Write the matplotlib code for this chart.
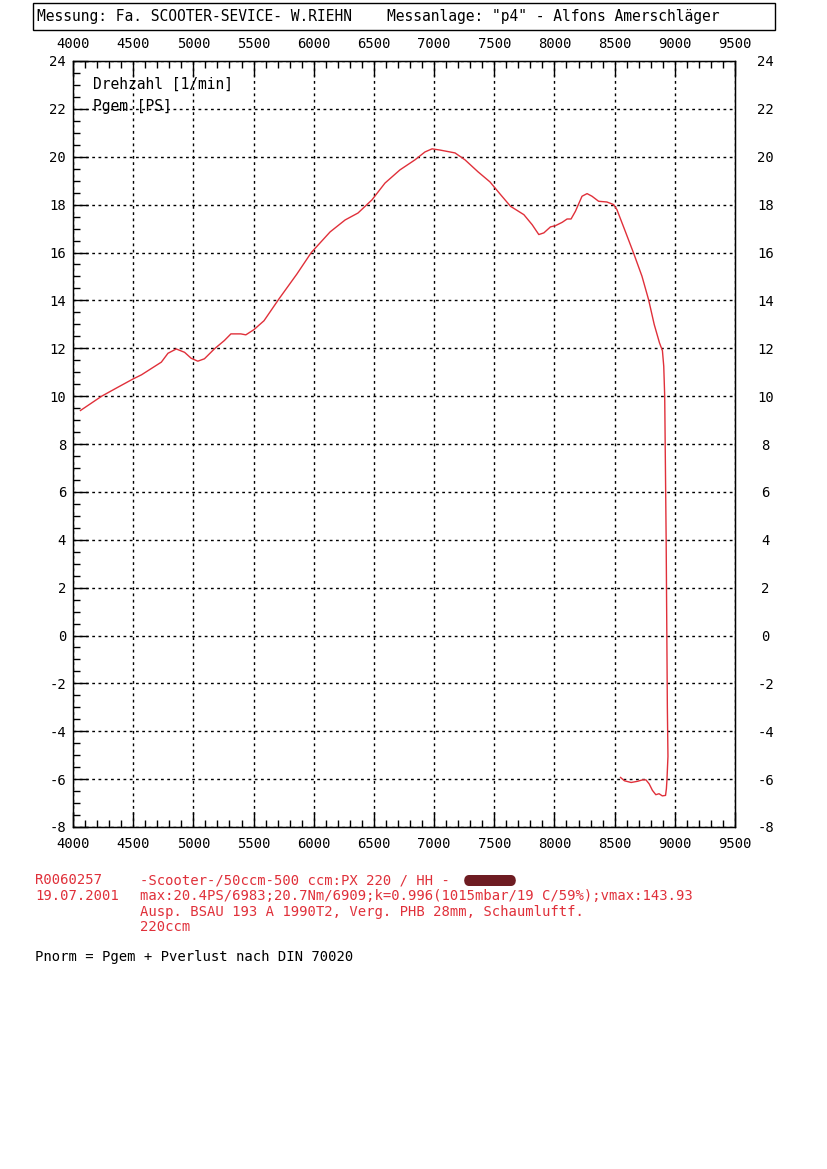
import numpy as np
import matplotlib
matplotlib.use('Agg')
import matplotlib.pyplot as plt
from matplotlib.patches import Rectangle, FancyBboxPatch
from matplotlib.ticker import MultipleLocator

# power curve (rpm, PS)
rpm = [4062, 4239, 4376, 4500, 4569, 4734, 4789, 4858, 4927, 4982, 5037, 5092,
       5174, 5257, 5312, 5394, 5436, 5504, 5587, 5711, 5860, 5980, 6136, 6261,
       6368, 6484, 6592, 6716, 6841, 6924, 6983, 7049, 7174, 7257, 7365, 7464,
       7552, 7635, 7746, 7815, 7870, 7912, 7967, 8008, 8064, 8105, 8138, 8174,
       8229, 8271, 8312, 8367, 8436, 8492, 8519, 8588, 8657, 8727, 8782, 8829,
       8873, 8897, 8908, 8916, 8928, 8938, 8943, 8935, 8930, 8923, 8896, 8869,
       8842, 8814, 8787, 8760, 8732, 8691, 8637, 8582, 8549]
pgem = [9.40, 10.0, 10.38, 10.72, 10.89, 11.42, 11.79, 11.97, 11.83, 11.58, 11.46, 11.56,
        11.97, 12.32, 12.60, 12.60, 12.56, 12.78, 13.15, 14.06, 15.10, 16.0, 16.86, 17.36,
        17.65, 18.2, 18.9, 19.45, 19.87, 20.2, 20.33, 20.28, 20.16, 19.87, 19.37, 18.95,
        18.42, 17.93, 17.58, 17.16, 16.75, 16.82, 17.07, 17.12, 17.26, 17.40, 17.40, 17.72,
        18.35, 18.46, 18.35, 18.14, 18.11, 18.0, 17.79, 16.89, 15.98, 15.01, 14.03, 12.99,
        12.22, 11.90, 11.25, 9.99, 4.0, -3.0, -5.05, -6.0, -6.4, -6.68, -6.70, -6.61,
        -6.65, -6.47, -6.20, -6.03, -6.03, -6.09, -6.14, -6.07, -5.93]

x_ticks = np.arange(4000, 9501, 500)
y_ticks = np.arange(-8, 25, 2)

header = 'Messung: Fa. SCOOTER-SEVICE- W.RIEHN    Messanlage: "p4" - Alfons Amerschläger'
info_left = ['R0060257', '19.07.2001']
info_right = ['-Scooter-/50ccm-500 ccm:PX 220 / HH - ',
              'max:20.4PS/6983;20.7Nm/6909;k=0.996(1015mbar/19 C/59%);vmax:143.93',
              'Ausp. BSAU 193 A 1990T2, Verg. PHB 28mm, Schaumluftf.',
              '220ccm']
footer = 'Pnorm = Pgem + Pverlust nach DIN 70020'

red = '#e0303a'
mono = 'DejaVu Sans Mono'
plt.rcParams['font.family'] = mono
plt.rcParams['axes.unicode_minus'] = False

W, H = 827, 1169
fig = plt.figure(figsize=(8.27, 11.69), dpi=100)
fig.patch.set_facecolor('white')

# header box
fig.patches.append(Rectangle((33 / W, 1 - 30 / H), 742 / W, 27 / H, transform=fig.transFigure,
                             fill=False, edgecolor='black', linewidth=1))
fig.text(37 / W, 1 - 17 / H, header, fontsize=10.5, va='center', ha='left', color='black')

ax = fig.add_axes([73 / W, 1 - 827 / H, 662 / W, 766 / H])
ax.plot(rpm, pgem, color=red, linewidth=1)
ax.set_xlim(4000, 9500)
ax.set_ylim(-8, 24)
ax.set_xticks(x_ticks)
ax.set_yticks(y_ticks)
ax.xaxis.set_minor_locator(MultipleLocator(100))
ax.yaxis.set_minor_locator(MultipleLocator(0.5))
ax.grid(True, which='major', color='black', linestyle=(0, (2, 2.5)), linewidth=1)
ax.tick_params(which='both', direction='in', top=True, bottom=True, left=True, right=True,
               labeltop=True, labelbottom=True, labelright=False, labelsize=10, width=1)
ax.tick_params(which='major', length=11)
ax.tick_params(which='minor', length=5)
ax.tick_params(axis='x', pad=7)
ax.tick_params(axis='y', pad=5)
for s in ax.spines.values():
    s.set_linewidth(1)

# right hand labels sit further out, centred
ax2 = ax.twinx()
ax2.set_ylim(-8, 24)
ax2.set_yticks(y_ticks)
ax2.tick_params(axis='y', length=0, pad=22, labelsize=10)
for lab in ax2.get_yticklabels():
    lab.set_horizontalalignment('center')

ax.text(0.03, 0.970, 'Drehzahl [1/min]', transform=ax.transAxes, fontsize=10.5, va='center')
ax.text(0.03, 0.940, 'Pgem [PS]', transform=ax.transAxes, fontsize=10.5, va='center')

# info lines
ys = [880, 896, 912, 927]
for t, y in zip(info_left, ys):
    fig.text(35 / W, 1 - y / H, t, fontsize=10, color=red, va='center')
for t, y in zip(info_right, ys):
    fig.text(140 / W, 1 - y / H, t, fontsize=10, color=red, va='center')
# blacked-out name
fig.patches.append(FancyBboxPatch((464 / W, 1 - 886 / H), 52 / W, 11 / H,
                                  boxstyle='round,pad=0,rounding_size=0.006',
                                  transform=fig.transFigure, facecolor='#6e1c22',
                                  edgecolor='none'))
fig.text(35 / W, 1 - 957 / H, footer, fontsize=10, color='black', va='center')

fig.savefig('out.png', dpi=100)
